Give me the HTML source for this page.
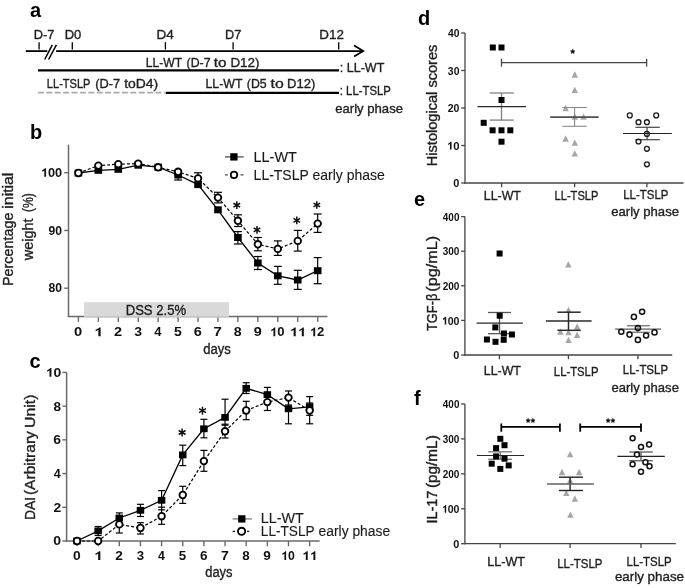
<!DOCTYPE html>
<html><head><meta charset="utf-8"><style>
html,body{margin:0;padding:0;background:#fff;}
body{width:685px;height:588px;overflow:hidden;}
svg{display:block;font-family:"Liberation Sans", sans-serif;will-change:transform;filter:blur(0.35px);}
</style></head><body>
<svg width="685" height="588" viewBox="0 0 685 588">
<rect width="685" height="588" fill="#fff"/>
<text x="30.00" y="17.10" font-size="20" font-weight="bold" fill="#000" text-anchor="start">a</text>
<text x="30.00" y="139.00" font-size="20" font-weight="bold" fill="#000" text-anchor="start">b</text>
<text x="29.60" y="368.00" font-size="20" font-weight="bold" fill="#000" text-anchor="start">c</text>
<text x="418.00" y="24.70" font-size="20" font-weight="bold" fill="#000" text-anchor="start">d</text>
<text x="414.00" y="206.40" font-size="20" font-weight="bold" fill="#000" text-anchor="start">e</text>
<text x="414.00" y="405.30" font-size="20" font-weight="bold" fill="#000" text-anchor="start">f</text>
<line x1="25.80" y1="51.10" x2="47.30" y2="51.10" stroke="#000" stroke-width="1.8" stroke-linecap="butt"/>
<line x1="56.10" y1="51.10" x2="362.50" y2="51.10" stroke="#000" stroke-width="1.8" stroke-linecap="butt"/>
<path d="M354.1,45.6 L363.2,51.1 L354.1,56.6" stroke="#000" stroke-width="1.8" fill="none"/>
<line x1="44.70" y1="59.50" x2="52.30" y2="44.80" stroke="#000" stroke-width="1.5" stroke-linecap="butt"/>
<line x1="48.60" y1="59.50" x2="56.40" y2="44.80" stroke="#000" stroke-width="1.5" stroke-linecap="butt"/>
<line x1="39.10" y1="42.20" x2="39.10" y2="49.60" stroke="#000" stroke-width="1.3" stroke-linecap="butt"/>
<line x1="72.30" y1="42.20" x2="72.30" y2="49.60" stroke="#000" stroke-width="1.3" stroke-linecap="butt"/>
<line x1="165.40" y1="42.20" x2="165.40" y2="49.60" stroke="#000" stroke-width="1.3" stroke-linecap="butt"/>
<line x1="233.10" y1="42.20" x2="233.10" y2="49.60" stroke="#000" stroke-width="1.3" stroke-linecap="butt"/>
<line x1="338.70" y1="42.20" x2="338.70" y2="49.60" stroke="#000" stroke-width="1.3" stroke-linecap="butt"/>
<text x="33.72" y="38.60" font-size="12.6" fill="#1f1f1f" textLength="20.65" lengthAdjust="spacingAndGlyphs" stroke="#1f1f1f" stroke-width="0.35">D-7</text>
<text x="64.71" y="38.60" font-size="12.6" fill="#1f1f1f" textLength="16.62" lengthAdjust="spacingAndGlyphs" stroke="#1f1f1f" stroke-width="0.35">D0</text>
<text x="156.46" y="38.80" font-size="12.6" fill="#1f1f1f" textLength="17.36" lengthAdjust="spacingAndGlyphs" stroke="#1f1f1f" stroke-width="0.35">D4</text>
<text x="225.13" y="38.80" font-size="12.6" fill="#1f1f1f" textLength="16.34" lengthAdjust="spacingAndGlyphs" stroke="#1f1f1f" stroke-width="0.35">D7</text>
<text x="319.38" y="38.80" font-size="12.6" fill="#1f1f1f" textLength="24.52" lengthAdjust="spacingAndGlyphs" stroke="#1f1f1f" stroke-width="0.35">D12</text>
<text x="145.78" y="67.00" font-size="12.6" fill="#1f1f1f" textLength="36.32" lengthAdjust="spacingAndGlyphs" stroke="#1f1f1f" stroke-width="0.35">LL-WT</text>
<text x="186.61" y="67.00" font-size="12.6" fill="#1f1f1f" textLength="23.93" lengthAdjust="spacingAndGlyphs" stroke="#1f1f1f" stroke-width="0.35">(D-7</text>
<text x="213.84" y="67.00" font-size="12.6" fill="#1f1f1f" textLength="12.72" lengthAdjust="spacingAndGlyphs" stroke="#1f1f1f" stroke-width="0.35">to</text>
<text x="230.48" y="67.00" font-size="12.6" fill="#1f1f1f" textLength="28.98" lengthAdjust="spacingAndGlyphs" stroke="#1f1f1f" stroke-width="0.35">D12)</text>
<line x1="38.00" y1="70.40" x2="339.00" y2="70.40" stroke="#000" stroke-width="2.4" stroke-linecap="butt"/>
<text x="339.73" y="71.80" font-size="12.6" fill="#1f1f1f" textLength="44.58" lengthAdjust="spacingAndGlyphs" stroke="#1f1f1f" stroke-width="0.35">: LL-WT</text>
<text x="46.87" y="87.90" font-size="12.6" fill="#1f1f1f" textLength="43.54" lengthAdjust="spacingAndGlyphs" stroke="#1f1f1f" stroke-width="0.35">LL-TSLP</text>
<text x="95.28" y="87.90" font-size="12.6" fill="#1f1f1f" textLength="24.99" lengthAdjust="spacingAndGlyphs" stroke="#1f1f1f" stroke-width="0.35">(D-7</text>
<text x="124.16" y="87.90" font-size="12.6" fill="#1f1f1f" textLength="34.02" lengthAdjust="spacingAndGlyphs" stroke="#1f1f1f" stroke-width="0.35">toD4)</text>
<line x1="37.90" y1="92.60" x2="165.40" y2="92.60" stroke="#aaaaaa" stroke-width="1.9" stroke-dasharray="6.0,2.4" stroke-linecap="butt"/>
<text x="205.46" y="88.00" font-size="12.6" fill="#1f1f1f" textLength="37.05" lengthAdjust="spacingAndGlyphs" stroke="#1f1f1f" stroke-width="0.35">LL-WT</text>
<text x="246.81" y="88.00" font-size="12.6" fill="#1f1f1f" textLength="19.83" lengthAdjust="spacingAndGlyphs" stroke="#1f1f1f" stroke-width="0.35">(D5</text>
<text x="270.54" y="88.00" font-size="12.6" fill="#1f1f1f" textLength="13.15" lengthAdjust="spacingAndGlyphs" stroke="#1f1f1f" stroke-width="0.35">to</text>
<text x="287.00" y="88.00" font-size="12.6" fill="#1f1f1f" textLength="28.33" lengthAdjust="spacingAndGlyphs" stroke="#1f1f1f" stroke-width="0.35">D12)</text>
<line x1="165.80" y1="92.90" x2="339.00" y2="92.90" stroke="#000" stroke-width="2.4" stroke-linecap="butt"/>
<text x="339.84" y="94.60" font-size="12.6" fill="#1f1f1f" textLength="50.98" lengthAdjust="spacingAndGlyphs" stroke="#1f1f1f" stroke-width="0.35">: LL-TSLP</text>
<text x="335.22" y="112.80" font-size="12.6" fill="#1f1f1f" textLength="67.79" lengthAdjust="spacingAndGlyphs" stroke="#1f1f1f" stroke-width="0.35">early phase</text>
<line x1="68.50" y1="144.60" x2="68.50" y2="317.10" stroke="#6a6a6a" stroke-width="1.5" stroke-linecap="butt"/>
<line x1="67.80" y1="316.60" x2="327.50" y2="316.60" stroke="#6a6a6a" stroke-width="1.5" stroke-linecap="butt"/>
<line x1="64.20" y1="172.70" x2="68.60" y2="172.70" stroke="#6a6a6a" stroke-width="1.4" stroke-linecap="butt"/>
<path d="M46.08,176.80 L46.08,168.20 L45.01,168.20 L44.54,168.87 L42.20,170.33 L42.20,171.80 L44.29,170.64 L44.29,176.80 Z" fill="#111"/>
<text x="47.91" y="176.80" font-size="12.5" font-weight="bold" fill="#111" textLength="7.11" lengthAdjust="spacingAndGlyphs">0</text>
<text x="55.01" y="176.80" font-size="12.5" font-weight="bold" fill="#111" textLength="7.11" lengthAdjust="spacingAndGlyphs">0</text>
<line x1="64.20" y1="230.45" x2="68.60" y2="230.45" stroke="#6a6a6a" stroke-width="1.4" stroke-linecap="butt"/>
<text x="48.58" y="234.55" font-size="12.5" font-weight="bold" fill="#111" textLength="6.76" lengthAdjust="spacingAndGlyphs">9</text>
<text x="55.34" y="234.55" font-size="12.5" font-weight="bold" fill="#111" textLength="6.76" lengthAdjust="spacingAndGlyphs">0</text>
<line x1="64.20" y1="288.20" x2="68.60" y2="288.20" stroke="#6a6a6a" stroke-width="1.4" stroke-linecap="butt"/>
<text x="48.62" y="292.30" font-size="12.5" font-weight="bold" fill="#111" textLength="6.74" lengthAdjust="spacingAndGlyphs">8</text>
<text x="55.36" y="292.30" font-size="12.5" font-weight="bold" fill="#111" textLength="6.74" lengthAdjust="spacingAndGlyphs">0</text>
<line x1="78.40" y1="316.40" x2="78.40" y2="321.90" stroke="#6a6a6a" stroke-width="1.4" stroke-linecap="butt"/>
<text x="74.12" y="336.20" font-size="12.6" font-weight="bold" fill="#111" textLength="8.19" lengthAdjust="spacingAndGlyphs">0</text>
<line x1="98.34" y1="316.40" x2="98.34" y2="321.90" stroke="#6a6a6a" stroke-width="1.4" stroke-linecap="butt"/>
<path d="M100.64,336.20 L100.64,327.53 L99.26,327.53 L98.66,328.20 L95.64,329.68 L95.64,331.16 L98.34,329.99 L98.34,336.20 Z" fill="#111"/>
<line x1="118.28" y1="316.40" x2="118.28" y2="321.90" stroke="#6a6a6a" stroke-width="1.4" stroke-linecap="butt"/>
<text x="114.08" y="336.20" font-size="12.6" font-weight="bold" fill="#111" textLength="8.09" lengthAdjust="spacingAndGlyphs">2</text>
<line x1="138.22" y1="316.40" x2="138.22" y2="321.90" stroke="#6a6a6a" stroke-width="1.4" stroke-linecap="butt"/>
<text x="134.20" y="336.20" font-size="12.6" font-weight="bold" fill="#111" textLength="7.83" lengthAdjust="spacingAndGlyphs">3</text>
<line x1="158.16" y1="316.40" x2="158.16" y2="321.90" stroke="#6a6a6a" stroke-width="1.4" stroke-linecap="butt"/>
<text x="154.26" y="336.20" font-size="12.6" font-weight="bold" fill="#111" textLength="7.27" lengthAdjust="spacingAndGlyphs">4</text>
<line x1="178.10" y1="316.40" x2="178.10" y2="321.90" stroke="#6a6a6a" stroke-width="1.4" stroke-linecap="butt"/>
<text x="173.97" y="336.20" font-size="12.6" font-weight="bold" fill="#111" textLength="7.82" lengthAdjust="spacingAndGlyphs">5</text>
<line x1="198.04" y1="316.40" x2="198.04" y2="321.90" stroke="#6a6a6a" stroke-width="1.4" stroke-linecap="butt"/>
<text x="193.81" y="336.20" font-size="12.6" font-weight="bold" fill="#111" textLength="8.05" lengthAdjust="spacingAndGlyphs">6</text>
<line x1="217.98" y1="316.40" x2="217.98" y2="321.90" stroke="#6a6a6a" stroke-width="1.4" stroke-linecap="butt"/>
<text x="213.64" y="336.20" font-size="12.6" font-weight="bold" fill="#111" textLength="8.30" lengthAdjust="spacingAndGlyphs">7</text>
<line x1="237.92" y1="316.40" x2="237.92" y2="321.90" stroke="#6a6a6a" stroke-width="1.4" stroke-linecap="butt"/>
<text x="233.77" y="336.20" font-size="12.6" font-weight="bold" fill="#111" textLength="7.89" lengthAdjust="spacingAndGlyphs">8</text>
<line x1="257.86" y1="316.40" x2="257.86" y2="321.90" stroke="#6a6a6a" stroke-width="1.4" stroke-linecap="butt"/>
<text x="253.66" y="336.20" font-size="12.6" font-weight="bold" fill="#111" textLength="8.04" lengthAdjust="spacingAndGlyphs">9</text>
<line x1="277.80" y1="316.40" x2="277.80" y2="321.90" stroke="#6a6a6a" stroke-width="1.4" stroke-linecap="butt"/>
<path d="M275.27,336.20 L275.27,327.53 L274.18,327.53 L273.70,328.20 L271.30,329.68 L271.30,331.16 L273.44,329.99 L273.44,336.20 Z" fill="#111"/>
<text x="277.15" y="336.20" font-size="12.6" font-weight="bold" fill="#111" textLength="7.29" lengthAdjust="spacingAndGlyphs">0</text>
<line x1="297.74" y1="316.40" x2="297.74" y2="321.90" stroke="#6a6a6a" stroke-width="1.4" stroke-linecap="butt"/>
<path d="M295.69,336.20 L295.69,327.53 L294.46,327.53 L293.92,328.20 L291.24,329.68 L291.24,331.16 L293.64,329.99 L293.64,336.20 Z" fill="#111"/>
<path d="M303.84,336.20 L303.84,327.53 L302.62,327.53 L302.08,328.20 L299.39,329.68 L299.39,331.16 L301.79,329.99 L301.79,336.20 Z" fill="#111"/>
<line x1="317.68" y1="316.40" x2="317.68" y2="321.90" stroke="#6a6a6a" stroke-width="1.4" stroke-linecap="butt"/>
<path d="M315.15,336.20 L315.15,327.53 L314.06,327.53 L313.58,328.20 L311.18,329.68 L311.18,331.16 L313.32,329.99 L313.32,336.20 Z" fill="#111"/>
<text x="317.02" y="336.20" font-size="12.6" font-weight="bold" fill="#111" textLength="7.28" lengthAdjust="spacingAndGlyphs">2</text>
<rect x="84.1" y="302.2" width="144.9" height="15.2" fill="#d9d9d9"/>
<line x1="84.10" y1="316.60" x2="229.00" y2="316.60" stroke="#c6c6c6" stroke-width="1.4" stroke-linecap="butt"/>
<text x="125.70" y="314.60" font-size="13.8" fill="#1f1f1f" textLength="60.39" lengthAdjust="spacingAndGlyphs" stroke="#1f1f1f" stroke-width="0.35">DSS 2.5%</text>
<text x="203.23" y="354.20" font-size="14.0" fill="#1f1f1f" textLength="27.57" lengthAdjust="spacingAndGlyphs" stroke="#1f1f1f" stroke-width="0.35">days</text>
<text transform="translate(13.30,285.00) rotate(-90)" x="-1.00" y="0" font-size="14.2" fill="#1f1f1f" textLength="73.47" lengthAdjust="spacingAndGlyphs" stroke="#1f1f1f" stroke-width="0.35">Percentage</text>
<text transform="translate(13.30,207.80) rotate(-90)" x="-0.88" y="0" font-size="14.2" fill="#1f1f1f" textLength="36.07" lengthAdjust="spacingAndGlyphs" stroke="#1f1f1f" stroke-width="0.35">initial</text>
<text transform="translate(32.70,260.50) rotate(-90)" x="0.20" y="0" font-size="14.2" fill="#1f1f1f" textLength="41.83" lengthAdjust="spacingAndGlyphs" stroke="#1f1f1f" stroke-width="0.35">weight</text>
<text transform="translate(32.70,211.50) rotate(-90)" x="-0.58" y="0" font-size="14.2" fill="#1f1f1f" textLength="18.96" lengthAdjust="spacingAndGlyphs" stroke="#1f1f1f" stroke-width="0.35">(%)</text>
<line x1="178.10" y1="180.00" x2="178.10" y2="175.00" stroke="#000" stroke-width="1.2" stroke-linecap="butt"/>
<line x1="174.10" y1="180.00" x2="182.10" y2="180.00" stroke="#000" stroke-width="1.2" stroke-linecap="butt"/>
<line x1="174.10" y1="175.00" x2="182.10" y2="175.00" stroke="#000" stroke-width="1.2" stroke-linecap="butt"/>
<line x1="237.92" y1="231.60" x2="237.92" y2="244.00" stroke="#000" stroke-width="1.2" stroke-linecap="butt"/>
<line x1="233.92" y1="231.60" x2="241.92" y2="231.60" stroke="#000" stroke-width="1.2" stroke-linecap="butt"/>
<line x1="233.92" y1="244.00" x2="241.92" y2="244.00" stroke="#000" stroke-width="1.2" stroke-linecap="butt"/>
<line x1="257.86" y1="256.50" x2="257.86" y2="269.50" stroke="#000" stroke-width="1.2" stroke-linecap="butt"/>
<line x1="253.86" y1="256.50" x2="261.86" y2="256.50" stroke="#000" stroke-width="1.2" stroke-linecap="butt"/>
<line x1="253.86" y1="269.50" x2="261.86" y2="269.50" stroke="#000" stroke-width="1.2" stroke-linecap="butt"/>
<line x1="277.80" y1="266.40" x2="277.80" y2="284.30" stroke="#000" stroke-width="1.2" stroke-linecap="butt"/>
<line x1="273.80" y1="266.40" x2="281.80" y2="266.40" stroke="#000" stroke-width="1.2" stroke-linecap="butt"/>
<line x1="273.80" y1="284.30" x2="281.80" y2="284.30" stroke="#000" stroke-width="1.2" stroke-linecap="butt"/>
<line x1="297.74" y1="270.30" x2="297.74" y2="289.40" stroke="#000" stroke-width="1.2" stroke-linecap="butt"/>
<line x1="293.74" y1="270.30" x2="301.74" y2="270.30" stroke="#000" stroke-width="1.2" stroke-linecap="butt"/>
<line x1="293.74" y1="289.40" x2="301.74" y2="289.40" stroke="#000" stroke-width="1.2" stroke-linecap="butt"/>
<line x1="317.68" y1="257.60" x2="317.68" y2="283.70" stroke="#000" stroke-width="1.2" stroke-linecap="butt"/>
<line x1="313.68" y1="257.60" x2="321.68" y2="257.60" stroke="#000" stroke-width="1.2" stroke-linecap="butt"/>
<line x1="313.68" y1="283.70" x2="321.68" y2="283.70" stroke="#000" stroke-width="1.2" stroke-linecap="butt"/>
<line x1="198.04" y1="172.80" x2="198.04" y2="178.40" stroke="#000" stroke-width="1.2" stroke-linecap="butt"/>
<line x1="194.04" y1="172.80" x2="202.04" y2="172.80" stroke="#000" stroke-width="1.2" stroke-linecap="butt"/>
<line x1="194.04" y1="178.40" x2="202.04" y2="178.40" stroke="#000" stroke-width="1.2" stroke-linecap="butt"/>
<line x1="217.98" y1="192.30" x2="217.98" y2="202.90" stroke="#000" stroke-width="1.2" stroke-linecap="butt"/>
<line x1="213.98" y1="192.30" x2="221.98" y2="192.30" stroke="#000" stroke-width="1.2" stroke-linecap="butt"/>
<line x1="213.98" y1="202.90" x2="221.98" y2="202.90" stroke="#000" stroke-width="1.2" stroke-linecap="butt"/>
<line x1="237.92" y1="214.80" x2="237.92" y2="226.50" stroke="#000" stroke-width="1.2" stroke-linecap="butt"/>
<line x1="233.92" y1="214.80" x2="241.92" y2="214.80" stroke="#000" stroke-width="1.2" stroke-linecap="butt"/>
<line x1="233.92" y1="226.50" x2="241.92" y2="226.50" stroke="#000" stroke-width="1.2" stroke-linecap="butt"/>
<line x1="257.86" y1="237.50" x2="257.86" y2="250.80" stroke="#000" stroke-width="1.2" stroke-linecap="butt"/>
<line x1="253.86" y1="237.50" x2="261.86" y2="237.50" stroke="#000" stroke-width="1.2" stroke-linecap="butt"/>
<line x1="253.86" y1="250.80" x2="261.86" y2="250.80" stroke="#000" stroke-width="1.2" stroke-linecap="butt"/>
<line x1="277.80" y1="240.90" x2="277.80" y2="255.40" stroke="#000" stroke-width="1.2" stroke-linecap="butt"/>
<line x1="273.80" y1="240.90" x2="281.80" y2="240.90" stroke="#000" stroke-width="1.2" stroke-linecap="butt"/>
<line x1="273.80" y1="255.40" x2="281.80" y2="255.40" stroke="#000" stroke-width="1.2" stroke-linecap="butt"/>
<line x1="297.74" y1="230.40" x2="297.74" y2="251.10" stroke="#000" stroke-width="1.2" stroke-linecap="butt"/>
<line x1="293.74" y1="230.40" x2="301.74" y2="230.40" stroke="#000" stroke-width="1.2" stroke-linecap="butt"/>
<line x1="293.74" y1="251.10" x2="301.74" y2="251.10" stroke="#000" stroke-width="1.2" stroke-linecap="butt"/>
<line x1="317.68" y1="214.00" x2="317.68" y2="232.40" stroke="#000" stroke-width="1.2" stroke-linecap="butt"/>
<line x1="313.68" y1="214.00" x2="321.68" y2="214.00" stroke="#000" stroke-width="1.2" stroke-linecap="butt"/>
<line x1="313.68" y1="232.40" x2="321.68" y2="232.40" stroke="#000" stroke-width="1.2" stroke-linecap="butt"/>
<path d="M78.40,173.00 L98.34,170.30 L118.28,169.30 L138.22,165.20 L158.16,167.20 L178.10,175.00 L198.04,184.60 L217.98,209.80 L237.92,237.50 L257.86,263.00 L277.80,275.80 L297.74,280.00 L317.68,270.70" stroke="#000" stroke-width="1.3" fill="none"/>
<path d="M78.40,173.00 L98.34,165.60 L118.28,164.20 L138.22,163.60 L158.16,167.30 L178.10,171.80 L198.04,178.40 L217.98,197.60 L237.92,220.80 L257.86,244.30 L277.80,248.90 L297.74,240.90 L317.68,223.60" stroke="#000" stroke-width="1.2" fill="none" stroke-dasharray="3,2"/>
<rect x="74.60" y="169.50" width="7.60" height="7.00" fill="#000"/>
<rect x="94.54" y="166.80" width="7.60" height="7.00" fill="#000"/>
<rect x="114.48" y="165.80" width="7.60" height="7.00" fill="#000"/>
<rect x="134.42" y="161.70" width="7.60" height="7.00" fill="#000"/>
<rect x="154.36" y="163.70" width="7.60" height="7.00" fill="#000"/>
<rect x="174.30" y="171.50" width="7.60" height="7.00" fill="#000"/>
<rect x="194.24" y="181.10" width="7.60" height="7.00" fill="#000"/>
<rect x="214.18" y="206.30" width="7.60" height="7.00" fill="#000"/>
<rect x="234.12" y="234.00" width="7.60" height="7.00" fill="#000"/>
<rect x="254.06" y="259.50" width="7.60" height="7.00" fill="#000"/>
<rect x="274.00" y="272.30" width="7.60" height="7.00" fill="#000"/>
<rect x="293.94" y="276.50" width="7.60" height="7.00" fill="#000"/>
<rect x="313.88" y="267.20" width="7.60" height="7.00" fill="#000"/>
<circle cx="78.40" cy="173.00" r="3.30" stroke="#000" stroke-width="1.8" fill="#fff"/>
<circle cx="98.34" cy="165.60" r="3.30" stroke="#000" stroke-width="1.8" fill="#fff"/>
<circle cx="118.28" cy="164.20" r="3.30" stroke="#000" stroke-width="1.8" fill="#fff"/>
<circle cx="138.22" cy="163.60" r="3.30" stroke="#000" stroke-width="1.8" fill="#fff"/>
<circle cx="158.16" cy="167.30" r="3.30" stroke="#000" stroke-width="1.8" fill="#fff"/>
<circle cx="178.10" cy="171.80" r="3.30" stroke="#000" stroke-width="1.8" fill="#fff"/>
<circle cx="198.04" cy="178.40" r="3.30" stroke="#000" stroke-width="1.8" fill="#fff"/>
<circle cx="217.98" cy="197.60" r="3.30" stroke="#000" stroke-width="1.8" fill="#fff"/>
<circle cx="237.92" cy="220.80" r="3.30" stroke="#000" stroke-width="1.8" fill="#fff"/>
<circle cx="257.86" cy="244.30" r="3.30" stroke="#000" stroke-width="1.8" fill="#fff"/>
<circle cx="277.80" cy="248.90" r="3.30" stroke="#000" stroke-width="1.8" fill="#fff"/>
<circle cx="297.74" cy="240.90" r="3.30" stroke="#000" stroke-width="1.8" fill="#fff"/>
<circle cx="317.68" cy="223.60" r="3.30" stroke="#000" stroke-width="1.8" fill="#fff"/>
<path d="M236.80,201.35 L236.80,209.05 M233.47,203.27 L240.13,207.12 M233.47,207.12 L240.13,203.27" stroke="#111" stroke-width="1.50" fill="none"/>
<path d="M257.00,226.05 L257.00,233.75 M253.67,227.97 L260.33,231.83 M253.67,231.83 L260.33,227.97" stroke="#111" stroke-width="1.50" fill="none"/>
<path d="M296.80,216.55 L296.80,224.25 M293.47,218.47 L300.13,222.33 M293.47,222.33 L300.13,218.47" stroke="#111" stroke-width="1.50" fill="none"/>
<path d="M316.80,201.15 L316.80,208.85 M313.47,203.07 L320.13,206.93 M313.47,206.93 L320.13,203.07" stroke="#111" stroke-width="1.50" fill="none"/>
<line x1="225.00" y1="156.90" x2="243.70" y2="156.90" stroke="#555" stroke-width="1.3" stroke-linecap="butt"/>
<rect x="230.25" y="153.25" width="7.30" height="7.30" fill="#000"/>
<line x1="225.00" y1="174.90" x2="244.00" y2="174.90" stroke="#444" stroke-width="1.3" stroke-dasharray="2.8,2.4" stroke-linecap="butt"/>
<circle cx="234.00" cy="174.90" r="3.20" stroke="#000" stroke-width="1.7" fill="#fff"/>
<text x="253.58" y="161.90" font-size="14.5" fill="#1a1a1a" textLength="43.19" lengthAdjust="spacingAndGlyphs" stroke="#1a1a1a" stroke-width="0.12">LL-WT</text>
<text x="253.61" y="179.70" font-size="14.5" fill="#1a1a1a" textLength="131.15" lengthAdjust="spacingAndGlyphs" stroke="#1a1a1a" stroke-width="0.12">LL-TSLP early phase</text>
<line x1="66.60" y1="372.20" x2="66.60" y2="541.70" stroke="#6a6a6a" stroke-width="1.5" stroke-linecap="butt"/>
<line x1="65.90" y1="541.00" x2="319.70" y2="541.00" stroke="#6a6a6a" stroke-width="1.4" stroke-linecap="butt"/>
<line x1="62.30" y1="541.00" x2="66.60" y2="541.00" stroke="#6a6a6a" stroke-width="1.4" stroke-linecap="butt"/>
<text x="53.34" y="545.40" font-size="12.8" font-weight="bold" fill="#111" textLength="7.84" lengthAdjust="spacingAndGlyphs">0</text>
<line x1="62.30" y1="507.28" x2="66.60" y2="507.28" stroke="#6a6a6a" stroke-width="1.4" stroke-linecap="butt"/>
<text x="53.42" y="511.68" font-size="12.8" font-weight="bold" fill="#111" textLength="7.74" lengthAdjust="spacingAndGlyphs">2</text>
<line x1="62.30" y1="473.56" x2="66.60" y2="473.56" stroke="#6a6a6a" stroke-width="1.4" stroke-linecap="butt"/>
<text x="53.71" y="477.96" font-size="12.8" font-weight="bold" fill="#111" textLength="6.96" lengthAdjust="spacingAndGlyphs">4</text>
<line x1="62.30" y1="439.84" x2="66.60" y2="439.84" stroke="#6a6a6a" stroke-width="1.4" stroke-linecap="butt"/>
<text x="53.39" y="444.24" font-size="12.8" font-weight="bold" fill="#111" textLength="7.71" lengthAdjust="spacingAndGlyphs">6</text>
<line x1="62.30" y1="406.12" x2="66.60" y2="406.12" stroke="#6a6a6a" stroke-width="1.4" stroke-linecap="butt"/>
<text x="53.47" y="410.52" font-size="12.8" font-weight="bold" fill="#111" textLength="7.55" lengthAdjust="spacingAndGlyphs">8</text>
<line x1="62.30" y1="372.40" x2="66.60" y2="372.40" stroke="#6a6a6a" stroke-width="1.4" stroke-linecap="butt"/>
<path d="M51.43,376.80 L51.43,367.99 L50.26,367.99 L49.75,368.67 L47.20,370.17 L47.20,371.67 L49.48,370.49 L49.48,376.80 Z" fill="#111"/>
<text x="53.42" y="376.80" font-size="12.8" font-weight="bold" fill="#111" textLength="7.75" lengthAdjust="spacingAndGlyphs">0</text>
<line x1="77.00" y1="541.00" x2="77.00" y2="546.30" stroke="#6a6a6a" stroke-width="1.4" stroke-linecap="butt"/>
<text x="72.95" y="560.00" font-size="12.6" font-weight="bold" fill="#111" textLength="7.72" lengthAdjust="spacingAndGlyphs">0</text>
<line x1="98.15" y1="541.00" x2="98.15" y2="546.30" stroke="#6a6a6a" stroke-width="1.4" stroke-linecap="butt"/>
<path d="M100.35,560.00 L100.35,551.33 L99.03,551.33 L98.45,552.00 L95.55,553.48 L95.55,554.96 L98.14,553.79 L98.14,560.00 Z" fill="#111"/>
<line x1="119.30" y1="541.00" x2="119.30" y2="546.30" stroke="#6a6a6a" stroke-width="1.4" stroke-linecap="butt"/>
<text x="115.32" y="560.00" font-size="12.6" font-weight="bold" fill="#111" textLength="7.62" lengthAdjust="spacingAndGlyphs">2</text>
<line x1="140.45" y1="541.00" x2="140.45" y2="546.30" stroke="#6a6a6a" stroke-width="1.4" stroke-linecap="butt"/>
<text x="136.65" y="560.00" font-size="12.6" font-weight="bold" fill="#111" textLength="7.38" lengthAdjust="spacingAndGlyphs">3</text>
<line x1="161.60" y1="541.00" x2="161.60" y2="546.30" stroke="#6a6a6a" stroke-width="1.4" stroke-linecap="butt"/>
<text x="157.91" y="560.00" font-size="12.6" font-weight="bold" fill="#111" textLength="6.85" lengthAdjust="spacingAndGlyphs">4</text>
<line x1="182.75" y1="541.00" x2="182.75" y2="546.30" stroke="#6a6a6a" stroke-width="1.4" stroke-linecap="butt"/>
<text x="178.84" y="560.00" font-size="12.6" font-weight="bold" fill="#111" textLength="7.38" lengthAdjust="spacingAndGlyphs">5</text>
<line x1="203.90" y1="541.00" x2="203.90" y2="546.30" stroke="#6a6a6a" stroke-width="1.4" stroke-linecap="butt"/>
<text x="199.90" y="560.00" font-size="12.6" font-weight="bold" fill="#111" textLength="7.59" lengthAdjust="spacingAndGlyphs">6</text>
<line x1="225.05" y1="541.00" x2="225.05" y2="546.30" stroke="#6a6a6a" stroke-width="1.4" stroke-linecap="butt"/>
<text x="220.95" y="560.00" font-size="12.6" font-weight="bold" fill="#111" textLength="7.82" lengthAdjust="spacingAndGlyphs">7</text>
<line x1="246.20" y1="541.00" x2="246.20" y2="546.30" stroke="#6a6a6a" stroke-width="1.4" stroke-linecap="butt"/>
<text x="242.28" y="560.00" font-size="12.6" font-weight="bold" fill="#111" textLength="7.44" lengthAdjust="spacingAndGlyphs">8</text>
<line x1="267.35" y1="541.00" x2="267.35" y2="546.30" stroke="#6a6a6a" stroke-width="1.4" stroke-linecap="butt"/>
<text x="263.38" y="560.00" font-size="12.6" font-weight="bold" fill="#111" textLength="7.58" lengthAdjust="spacingAndGlyphs">9</text>
<line x1="288.50" y1="541.00" x2="288.50" y2="546.30" stroke="#6a6a6a" stroke-width="1.4" stroke-linecap="butt"/>
<path d="M286.12,560.00 L286.12,551.33 L285.10,551.33 L284.65,552.00 L282.40,553.48 L282.40,554.96 L284.41,553.79 L284.41,560.00 Z" fill="#111"/>
<text x="287.88" y="560.00" font-size="12.6" font-weight="bold" fill="#111" textLength="6.83" lengthAdjust="spacingAndGlyphs">0</text>
<line x1="309.65" y1="541.00" x2="309.65" y2="546.30" stroke="#6a6a6a" stroke-width="1.4" stroke-linecap="butt"/>
<path d="M307.71,560.00 L307.71,551.33 L306.57,551.33 L306.06,552.00 L303.55,553.48 L303.55,554.96 L305.80,553.79 L305.80,560.00 Z" fill="#111"/>
<path d="M315.35,560.00 L315.35,551.33 L314.20,551.33 L313.70,552.00 L311.19,553.48 L311.19,554.96 L313.43,553.79 L313.43,560.00 Z" fill="#111"/>
<text x="205.23" y="576.50" font-size="14.0" fill="#1f1f1f" textLength="27.26" lengthAdjust="spacingAndGlyphs" stroke="#1f1f1f" stroke-width="0.35">days</text>
<text transform="translate(34.50,519.00) rotate(-90)" x="-0.97" y="0" font-size="14.0" fill="#1f1f1f" textLength="23.17" lengthAdjust="spacingAndGlyphs" stroke="#1f1f1f" stroke-width="0.35">DAI</text>
<text transform="translate(34.50,494.30) rotate(-90)" x="-0.79" y="0" font-size="14.0" fill="#1f1f1f" textLength="63.94" lengthAdjust="spacingAndGlyphs" stroke="#1f1f1f" stroke-width="0.35">(Arbitrary</text>
<text transform="translate(34.50,426.90) rotate(-90)" x="-1.04" y="0" font-size="14.0" fill="#1f1f1f" textLength="33.35" lengthAdjust="spacingAndGlyphs" stroke="#1f1f1f" stroke-width="0.35">Unit)</text>
<line x1="98.15" y1="526.50" x2="98.15" y2="535.50" stroke="#000" stroke-width="1.2" stroke-linecap="butt"/>
<line x1="94.65" y1="526.50" x2="101.65" y2="526.50" stroke="#000" stroke-width="1.2" stroke-linecap="butt"/>
<line x1="94.65" y1="535.50" x2="101.65" y2="535.50" stroke="#000" stroke-width="1.2" stroke-linecap="butt"/>
<line x1="119.30" y1="512.90" x2="119.30" y2="524.60" stroke="#000" stroke-width="1.2" stroke-linecap="butt"/>
<line x1="115.80" y1="512.90" x2="122.80" y2="512.90" stroke="#000" stroke-width="1.2" stroke-linecap="butt"/>
<line x1="115.80" y1="524.60" x2="122.80" y2="524.60" stroke="#000" stroke-width="1.2" stroke-linecap="butt"/>
<line x1="140.45" y1="504.30" x2="140.45" y2="516.50" stroke="#000" stroke-width="1.2" stroke-linecap="butt"/>
<line x1="136.95" y1="504.30" x2="143.95" y2="504.30" stroke="#000" stroke-width="1.2" stroke-linecap="butt"/>
<line x1="136.95" y1="516.50" x2="143.95" y2="516.50" stroke="#000" stroke-width="1.2" stroke-linecap="butt"/>
<line x1="161.60" y1="490.60" x2="161.60" y2="509.80" stroke="#000" stroke-width="1.2" stroke-linecap="butt"/>
<line x1="158.10" y1="490.60" x2="165.10" y2="490.60" stroke="#000" stroke-width="1.2" stroke-linecap="butt"/>
<line x1="158.10" y1="509.80" x2="165.10" y2="509.80" stroke="#000" stroke-width="1.2" stroke-linecap="butt"/>
<line x1="182.75" y1="445.20" x2="182.75" y2="465.60" stroke="#000" stroke-width="1.2" stroke-linecap="butt"/>
<line x1="179.25" y1="445.20" x2="186.25" y2="445.20" stroke="#000" stroke-width="1.2" stroke-linecap="butt"/>
<line x1="179.25" y1="465.60" x2="186.25" y2="465.60" stroke="#000" stroke-width="1.2" stroke-linecap="butt"/>
<line x1="203.90" y1="419.30" x2="203.90" y2="437.80" stroke="#000" stroke-width="1.2" stroke-linecap="butt"/>
<line x1="200.40" y1="419.30" x2="207.40" y2="419.30" stroke="#000" stroke-width="1.2" stroke-linecap="butt"/>
<line x1="200.40" y1="437.80" x2="207.40" y2="437.80" stroke="#000" stroke-width="1.2" stroke-linecap="butt"/>
<line x1="225.05" y1="399.20" x2="225.05" y2="425.20" stroke="#000" stroke-width="1.2" stroke-linecap="butt"/>
<line x1="221.55" y1="399.20" x2="228.55" y2="399.20" stroke="#000" stroke-width="1.2" stroke-linecap="butt"/>
<line x1="221.55" y1="425.20" x2="228.55" y2="425.20" stroke="#000" stroke-width="1.2" stroke-linecap="butt"/>
<line x1="246.20" y1="382.70" x2="246.20" y2="393.50" stroke="#000" stroke-width="1.2" stroke-linecap="butt"/>
<line x1="242.70" y1="382.70" x2="249.70" y2="382.70" stroke="#000" stroke-width="1.2" stroke-linecap="butt"/>
<line x1="242.70" y1="393.50" x2="249.70" y2="393.50" stroke="#000" stroke-width="1.2" stroke-linecap="butt"/>
<line x1="267.35" y1="387.40" x2="267.35" y2="402.50" stroke="#000" stroke-width="1.2" stroke-linecap="butt"/>
<line x1="263.85" y1="387.40" x2="270.85" y2="387.40" stroke="#000" stroke-width="1.2" stroke-linecap="butt"/>
<line x1="263.85" y1="402.50" x2="270.85" y2="402.50" stroke="#000" stroke-width="1.2" stroke-linecap="butt"/>
<line x1="288.50" y1="397.00" x2="288.50" y2="423.80" stroke="#000" stroke-width="1.2" stroke-linecap="butt"/>
<line x1="285.00" y1="397.00" x2="292.00" y2="397.00" stroke="#000" stroke-width="1.2" stroke-linecap="butt"/>
<line x1="285.00" y1="423.80" x2="292.00" y2="423.80" stroke="#000" stroke-width="1.2" stroke-linecap="butt"/>
<line x1="309.65" y1="396.60" x2="309.65" y2="423.80" stroke="#000" stroke-width="1.2" stroke-linecap="butt"/>
<line x1="306.15" y1="396.60" x2="313.15" y2="396.60" stroke="#000" stroke-width="1.2" stroke-linecap="butt"/>
<line x1="306.15" y1="423.80" x2="313.15" y2="423.80" stroke="#000" stroke-width="1.2" stroke-linecap="butt"/>
<line x1="119.30" y1="517.00" x2="119.30" y2="533.00" stroke="#000" stroke-width="1.2" stroke-linecap="butt"/>
<line x1="115.80" y1="517.00" x2="122.80" y2="517.00" stroke="#000" stroke-width="1.2" stroke-linecap="butt"/>
<line x1="115.80" y1="533.00" x2="122.80" y2="533.00" stroke="#000" stroke-width="1.2" stroke-linecap="butt"/>
<line x1="140.45" y1="522.70" x2="140.45" y2="534.00" stroke="#000" stroke-width="1.2" stroke-linecap="butt"/>
<line x1="136.95" y1="522.70" x2="143.95" y2="522.70" stroke="#000" stroke-width="1.2" stroke-linecap="butt"/>
<line x1="136.95" y1="534.00" x2="143.95" y2="534.00" stroke="#000" stroke-width="1.2" stroke-linecap="butt"/>
<line x1="161.60" y1="507.20" x2="161.60" y2="524.30" stroke="#000" stroke-width="1.2" stroke-linecap="butt"/>
<line x1="158.10" y1="507.20" x2="165.10" y2="507.20" stroke="#000" stroke-width="1.2" stroke-linecap="butt"/>
<line x1="158.10" y1="524.30" x2="165.10" y2="524.30" stroke="#000" stroke-width="1.2" stroke-linecap="butt"/>
<line x1="182.75" y1="486.30" x2="182.75" y2="503.40" stroke="#000" stroke-width="1.2" stroke-linecap="butt"/>
<line x1="179.25" y1="486.30" x2="186.25" y2="486.30" stroke="#000" stroke-width="1.2" stroke-linecap="butt"/>
<line x1="179.25" y1="503.40" x2="186.25" y2="503.40" stroke="#000" stroke-width="1.2" stroke-linecap="butt"/>
<line x1="203.90" y1="450.40" x2="203.90" y2="471.30" stroke="#000" stroke-width="1.2" stroke-linecap="butt"/>
<line x1="200.40" y1="450.40" x2="207.40" y2="450.40" stroke="#000" stroke-width="1.2" stroke-linecap="butt"/>
<line x1="200.40" y1="471.30" x2="207.40" y2="471.30" stroke="#000" stroke-width="1.2" stroke-linecap="butt"/>
<line x1="225.05" y1="424.20" x2="225.05" y2="438.00" stroke="#000" stroke-width="1.2" stroke-linecap="butt"/>
<line x1="221.55" y1="424.20" x2="228.55" y2="424.20" stroke="#000" stroke-width="1.2" stroke-linecap="butt"/>
<line x1="221.55" y1="438.00" x2="228.55" y2="438.00" stroke="#000" stroke-width="1.2" stroke-linecap="butt"/>
<line x1="246.20" y1="401.30" x2="246.20" y2="419.70" stroke="#000" stroke-width="1.2" stroke-linecap="butt"/>
<line x1="242.70" y1="401.30" x2="249.70" y2="401.30" stroke="#000" stroke-width="1.2" stroke-linecap="butt"/>
<line x1="242.70" y1="419.70" x2="249.70" y2="419.70" stroke="#000" stroke-width="1.2" stroke-linecap="butt"/>
<line x1="267.35" y1="395.00" x2="267.35" y2="410.50" stroke="#000" stroke-width="1.2" stroke-linecap="butt"/>
<line x1="263.85" y1="395.00" x2="270.85" y2="395.00" stroke="#000" stroke-width="1.2" stroke-linecap="butt"/>
<line x1="263.85" y1="410.50" x2="270.85" y2="410.50" stroke="#000" stroke-width="1.2" stroke-linecap="butt"/>
<line x1="288.50" y1="391.00" x2="288.50" y2="405.00" stroke="#000" stroke-width="1.2" stroke-linecap="butt"/>
<line x1="285.00" y1="391.00" x2="292.00" y2="391.00" stroke="#000" stroke-width="1.2" stroke-linecap="butt"/>
<line x1="285.00" y1="405.00" x2="292.00" y2="405.00" stroke="#000" stroke-width="1.2" stroke-linecap="butt"/>
<line x1="309.65" y1="403.00" x2="309.65" y2="415.30" stroke="#000" stroke-width="1.2" stroke-linecap="butt"/>
<line x1="306.15" y1="403.00" x2="313.15" y2="403.00" stroke="#000" stroke-width="1.2" stroke-linecap="butt"/>
<line x1="306.15" y1="415.30" x2="313.15" y2="415.30" stroke="#000" stroke-width="1.2" stroke-linecap="butt"/>
<path d="M77.00,541.00 L98.15,530.90 L119.30,518.00 L140.45,510.30 L161.60,500.30 L182.75,454.90 L203.90,428.80 L225.05,417.40 L246.20,388.30 L267.35,394.60 L288.50,408.80 L309.65,406.80" stroke="#000" stroke-width="1.3" fill="none"/>
<path d="M77.00,541.00 L98.15,541.00 L119.30,524.40 L140.45,528.00 L161.60,516.20 L182.75,495.00 L203.90,461.10 L225.05,431.30 L246.20,410.50 L267.35,402.10 L288.50,397.60 L309.65,410.50" stroke="#000" stroke-width="1.2" fill="none" stroke-dasharray="3,2"/>
<rect x="73.25" y="537.60" width="7.50" height="6.80" fill="#000"/>
<rect x="94.40" y="527.50" width="7.50" height="6.80" fill="#000"/>
<rect x="115.55" y="514.60" width="7.50" height="6.80" fill="#000"/>
<rect x="136.70" y="506.90" width="7.50" height="6.80" fill="#000"/>
<rect x="157.85" y="496.90" width="7.50" height="6.80" fill="#000"/>
<rect x="179.00" y="451.50" width="7.50" height="6.80" fill="#000"/>
<rect x="200.15" y="425.40" width="7.50" height="6.80" fill="#000"/>
<rect x="221.30" y="414.00" width="7.50" height="6.80" fill="#000"/>
<rect x="242.45" y="384.90" width="7.50" height="6.80" fill="#000"/>
<rect x="263.60" y="391.20" width="7.50" height="6.80" fill="#000"/>
<rect x="284.75" y="405.40" width="7.50" height="6.80" fill="#000"/>
<rect x="305.90" y="403.40" width="7.50" height="6.80" fill="#000"/>
<circle cx="77.00" cy="541.00" r="3.30" stroke="#000" stroke-width="1.8" fill="#fff"/>
<circle cx="98.15" cy="541.00" r="3.30" stroke="#000" stroke-width="1.8" fill="#fff"/>
<circle cx="119.30" cy="524.40" r="3.30" stroke="#000" stroke-width="1.8" fill="#fff"/>
<circle cx="140.45" cy="528.00" r="3.30" stroke="#000" stroke-width="1.8" fill="#fff"/>
<circle cx="161.60" cy="516.20" r="3.30" stroke="#000" stroke-width="1.8" fill="#fff"/>
<circle cx="182.75" cy="495.00" r="3.30" stroke="#000" stroke-width="1.8" fill="#fff"/>
<circle cx="203.90" cy="461.10" r="3.30" stroke="#000" stroke-width="1.8" fill="#fff"/>
<circle cx="225.05" cy="431.30" r="3.30" stroke="#000" stroke-width="1.8" fill="#fff"/>
<circle cx="246.20" cy="410.50" r="3.30" stroke="#000" stroke-width="1.8" fill="#fff"/>
<circle cx="267.35" cy="402.10" r="3.30" stroke="#000" stroke-width="1.8" fill="#fff"/>
<circle cx="288.50" cy="397.60" r="3.30" stroke="#000" stroke-width="1.8" fill="#fff"/>
<circle cx="309.65" cy="410.50" r="3.30" stroke="#000" stroke-width="1.8" fill="#fff"/>
<path d="M182.10,428.50 L182.10,436.50 M178.64,430.50 L185.56,434.50 M178.64,434.50 L185.56,430.50" stroke="#111" stroke-width="1.50" fill="none"/>
<path d="M202.50,406.70 L202.50,414.70 M199.04,408.70 L205.96,412.70 M199.04,412.70 L205.96,408.70" stroke="#111" stroke-width="1.50" fill="none"/>
<line x1="232.60" y1="518.90" x2="251.90" y2="518.90" stroke="#888" stroke-width="1.4" stroke-linecap="butt"/>
<rect x="238.15" y="515.25" width="7.30" height="7.30" fill="#000"/>
<line x1="232.60" y1="531.30" x2="251.90" y2="531.30" stroke="#222" stroke-width="1.3" stroke-dasharray="2.4,2.4" stroke-linecap="butt"/>
<circle cx="241.60" cy="531.30" r="3.60" stroke="#000" stroke-width="1.85" fill="#fff"/>
<text x="260.78" y="522.90" font-size="14.0" fill="#1a1a1a" textLength="42.98" lengthAdjust="spacingAndGlyphs" stroke="#1a1a1a" stroke-width="0.12">LL-WT</text>
<text x="260.84" y="535.50" font-size="14.0" fill="#1a1a1a" textLength="53.82" lengthAdjust="spacingAndGlyphs" stroke="#1a1a1a" stroke-width="0.12">LL-TSLP</text>
<text x="318.57" y="535.50" font-size="14.0" fill="#1a1a1a" textLength="71.58" lengthAdjust="spacingAndGlyphs" stroke="#1a1a1a" stroke-width="0.12">early phase</text>
<line x1="465.00" y1="33.00" x2="465.00" y2="183.60" stroke="#454545" stroke-width="1.3" stroke-linecap="butt"/>
<line x1="461.20" y1="33.00" x2="465.00" y2="33.00" stroke="#454545" stroke-width="1.3" stroke-linecap="butt"/>
<text x="447.94" y="37.10" font-size="11.4" font-weight="bold" fill="#111" textLength="5.74" lengthAdjust="spacingAndGlyphs">4</text>
<text x="453.68" y="37.10" font-size="11.4" font-weight="bold" fill="#111" textLength="5.74" lengthAdjust="spacingAndGlyphs">0</text>
<line x1="461.20" y1="70.50" x2="465.00" y2="70.50" stroke="#454545" stroke-width="1.3" stroke-linecap="butt"/>
<text x="447.86" y="74.60" font-size="11.4" font-weight="bold" fill="#111" textLength="5.78" lengthAdjust="spacingAndGlyphs">3</text>
<text x="453.64" y="74.60" font-size="11.4" font-weight="bold" fill="#111" textLength="5.78" lengthAdjust="spacingAndGlyphs">0</text>
<line x1="461.20" y1="108.00" x2="465.00" y2="108.00" stroke="#454545" stroke-width="1.3" stroke-linecap="butt"/>
<text x="447.74" y="112.10" font-size="11.4" font-weight="bold" fill="#111" textLength="5.85" lengthAdjust="spacingAndGlyphs">2</text>
<text x="453.58" y="112.10" font-size="11.4" font-weight="bold" fill="#111" textLength="5.85" lengthAdjust="spacingAndGlyphs">0</text>
<line x1="461.20" y1="145.50" x2="465.00" y2="145.50" stroke="#454545" stroke-width="1.3" stroke-linecap="butt"/>
<path d="M451.54,149.60 L451.54,141.76 L450.59,141.76 L450.18,142.36 L448.10,143.70 L448.10,145.04 L449.95,143.98 L449.95,149.60 Z" fill="#111"/>
<text x="453.16" y="149.60" font-size="11.4" font-weight="bold" fill="#111" textLength="6.31" lengthAdjust="spacingAndGlyphs">0</text>
<line x1="461.20" y1="183.00" x2="465.00" y2="183.00" stroke="#454545" stroke-width="1.3" stroke-linecap="butt"/>
<text x="453.37" y="187.10" font-size="11.4" font-weight="bold" fill="#111" textLength="6.08" lengthAdjust="spacingAndGlyphs">0</text>
<line x1="464.40" y1="183.00" x2="683.60" y2="183.00" stroke="#454545" stroke-width="1.3" stroke-linecap="butt"/>
<line x1="501.60" y1="183.00" x2="501.60" y2="187.20" stroke="#454545" stroke-width="1.3" stroke-linecap="butt"/>
<line x1="574.60" y1="183.00" x2="574.60" y2="187.20" stroke="#454545" stroke-width="1.3" stroke-linecap="butt"/>
<line x1="646.90" y1="183.00" x2="646.90" y2="187.20" stroke="#454545" stroke-width="1.3" stroke-linecap="butt"/>
<text x="483.76" y="199.50" font-size="12.6" fill="#1f1f1f" textLength="37.15" lengthAdjust="spacingAndGlyphs" stroke="#1f1f1f" stroke-width="0.35">LL-WT</text>
<text x="554.56" y="200.40" font-size="12.6" fill="#1f1f1f" textLength="43.85" lengthAdjust="spacingAndGlyphs" stroke="#1f1f1f" stroke-width="0.35">LL-TSLP</text>
<text x="623.24" y="199.10" font-size="12.6" fill="#1f1f1f" textLength="45.19" lengthAdjust="spacingAndGlyphs" stroke="#1f1f1f" stroke-width="0.35">LL-TSLP</text>
<text x="611.22" y="216.30" font-size="12.6" fill="#1f1f1f" textLength="67.79" lengthAdjust="spacingAndGlyphs" stroke="#1f1f1f" stroke-width="0.35">early phase</text>
<text transform="translate(436.60,165.20) rotate(-90)" x="-1.02" y="0" font-size="15.0" fill="#1f1f1f" textLength="121.57" lengthAdjust="spacingAndGlyphs" stroke="#1f1f1f" stroke-width="0.35">Histological scores</text>
<line x1="501.50" y1="62.60" x2="646.60" y2="62.60" stroke="#454545" stroke-width="1.3" stroke-linecap="butt"/>
<line x1="501.50" y1="58.70" x2="501.50" y2="66.60" stroke="#454545" stroke-width="1.3" stroke-linecap="butt"/>
<line x1="646.60" y1="58.70" x2="646.60" y2="66.60" stroke="#454545" stroke-width="1.3" stroke-linecap="butt"/>
<path d="M572.70,49.20 L573.41,50.63 L574.98,50.86 L573.84,51.97 L574.11,53.54 L572.70,52.80 L571.29,53.54 L571.56,51.97 L570.42,50.86 L571.99,50.63 Z" fill="#111" stroke="#111" stroke-width="0.5" stroke-linejoin="round"/>
<path d="M571.55,77.65 L578.05,77.65 L574.80,71.35 Z" fill="#a6a6a6"/>
<path d="M571.55,92.95 L578.05,92.95 L574.80,86.65 Z" fill="#a6a6a6"/>
<path d="M562.35,111.15 L568.85,111.15 L565.60,104.85 Z" fill="#a6a6a6"/>
<path d="M571.55,119.85 L578.05,119.85 L574.80,113.55 Z" fill="#a6a6a6"/>
<path d="M580.25,119.85 L586.75,119.85 L583.50,113.55 Z" fill="#a6a6a6"/>
<path d="M562.35,141.65 L568.85,141.65 L565.60,135.35 Z" fill="#a6a6a6"/>
<path d="M571.55,145.75 L578.05,145.75 L574.80,139.45 Z" fill="#a6a6a6"/>
<path d="M571.55,156.55 L578.05,156.55 L574.80,150.25 Z" fill="#a6a6a6"/>
<line x1="574.60" y1="107.50" x2="574.60" y2="126.30" stroke="#8a8a8a" stroke-width="1.1" stroke-linecap="butt"/>
<line x1="562.30" y1="107.50" x2="586.80" y2="107.50" stroke="#8a8a8a" stroke-width="1.1" stroke-linecap="butt"/>
<line x1="562.30" y1="126.30" x2="586.80" y2="126.30" stroke="#8a8a8a" stroke-width="1.1" stroke-linecap="butt"/>
<line x1="550.20" y1="117.10" x2="598.70" y2="117.10" stroke="#505050" stroke-width="1.6" stroke-linecap="butt"/>
<line x1="501.50" y1="93.00" x2="501.50" y2="120.10" stroke="#808080" stroke-width="1.3" stroke-linecap="butt"/>
<line x1="489.80" y1="93.00" x2="513.80" y2="93.00" stroke="#808080" stroke-width="1.3" stroke-linecap="butt"/>
<line x1="489.80" y1="120.10" x2="513.80" y2="120.10" stroke="#808080" stroke-width="1.3" stroke-linecap="butt"/>
<line x1="477.50" y1="106.60" x2="526.00" y2="106.60" stroke="#2a2a2a" stroke-width="1.2" stroke-linecap="butt"/>
<rect x="489.80" y="44.50" width="6.00" height="6.00" fill="#000"/>
<rect x="498.50" y="44.50" width="6.00" height="6.00" fill="#000"/>
<rect x="498.50" y="97.00" width="6.00" height="6.00" fill="#000"/>
<rect x="480.70" y="119.80" width="6.00" height="6.00" fill="#000"/>
<rect x="489.60" y="127.30" width="6.00" height="6.00" fill="#000"/>
<rect x="498.50" y="127.30" width="6.00" height="6.00" fill="#000"/>
<rect x="507.30" y="127.30" width="6.00" height="6.00" fill="#000"/>
<rect x="498.50" y="138.70" width="6.00" height="6.00" fill="#000"/>
<line x1="647.10" y1="127.30" x2="647.10" y2="139.70" stroke="#444" stroke-width="1.2" stroke-linecap="butt"/>
<line x1="635.40" y1="127.30" x2="659.80" y2="127.30" stroke="#444" stroke-width="1.2" stroke-linecap="butt"/>
<line x1="635.40" y1="139.70" x2="659.80" y2="139.70" stroke="#444" stroke-width="1.2" stroke-linecap="butt"/>
<line x1="623.00" y1="133.50" x2="671.80" y2="133.50" stroke="#222" stroke-width="1.1" stroke-linecap="butt"/>
<circle cx="629.80" cy="115.40" r="2.45" stroke="#1a1a1a" stroke-width="1.3" fill="none"/>
<circle cx="656.20" cy="115.40" r="2.45" stroke="#1a1a1a" stroke-width="1.3" fill="none"/>
<circle cx="638.50" cy="122.20" r="2.45" stroke="#1a1a1a" stroke-width="1.3" fill="none"/>
<circle cx="646.90" cy="122.20" r="2.45" stroke="#1a1a1a" stroke-width="1.3" fill="none"/>
<circle cx="646.90" cy="133.90" r="2.45" stroke="#1a1a1a" stroke-width="1.3" fill="none"/>
<circle cx="638.50" cy="141.50" r="2.45" stroke="#1a1a1a" stroke-width="1.3" fill="none"/>
<circle cx="646.90" cy="148.80" r="2.45" stroke="#1a1a1a" stroke-width="1.3" fill="none"/>
<circle cx="646.90" cy="164.30" r="2.45" stroke="#1a1a1a" stroke-width="1.3" fill="none"/>
<line x1="464.90" y1="216.60" x2="464.90" y2="355.60" stroke="#454545" stroke-width="1.3" stroke-linecap="butt"/>
<line x1="461.10" y1="216.60" x2="464.90" y2="216.60" stroke="#454545" stroke-width="1.3" stroke-linecap="butt"/>
<text x="442.85" y="220.70" font-size="11.4" font-weight="bold" fill="#111" textLength="5.52" lengthAdjust="spacingAndGlyphs">4</text>
<text x="448.37" y="220.70" font-size="11.4" font-weight="bold" fill="#111" textLength="5.52" lengthAdjust="spacingAndGlyphs">0</text>
<text x="453.89" y="220.70" font-size="11.4" font-weight="bold" fill="#111" textLength="5.52" lengthAdjust="spacingAndGlyphs">0</text>
<line x1="461.10" y1="251.20" x2="464.90" y2="251.20" stroke="#454545" stroke-width="1.3" stroke-linecap="butt"/>
<text x="442.77" y="255.30" font-size="11.4" font-weight="bold" fill="#111" textLength="5.55" lengthAdjust="spacingAndGlyphs">3</text>
<text x="448.32" y="255.30" font-size="11.4" font-weight="bold" fill="#111" textLength="5.55" lengthAdjust="spacingAndGlyphs">0</text>
<text x="453.86" y="255.30" font-size="11.4" font-weight="bold" fill="#111" textLength="5.55" lengthAdjust="spacingAndGlyphs">0</text>
<line x1="461.10" y1="285.80" x2="464.90" y2="285.80" stroke="#454545" stroke-width="1.3" stroke-linecap="butt"/>
<text x="442.65" y="289.90" font-size="11.4" font-weight="bold" fill="#111" textLength="5.59" lengthAdjust="spacingAndGlyphs">2</text>
<text x="448.24" y="289.90" font-size="11.4" font-weight="bold" fill="#111" textLength="5.59" lengthAdjust="spacingAndGlyphs">0</text>
<text x="453.83" y="289.90" font-size="11.4" font-weight="bold" fill="#111" textLength="5.59" lengthAdjust="spacingAndGlyphs">0</text>
<line x1="461.10" y1="320.40" x2="464.90" y2="320.40" stroke="#454545" stroke-width="1.3" stroke-linecap="butt"/>
<path d="M446.20,324.50 L446.20,316.66 L445.32,316.66 L444.93,317.26 L443.00,318.60 L443.00,319.94 L444.72,318.88 L444.72,324.50 Z" fill="#111"/>
<text x="447.71" y="324.50" font-size="11.4" font-weight="bold" fill="#111" textLength="5.86" lengthAdjust="spacingAndGlyphs">0</text>
<text x="453.57" y="324.50" font-size="11.4" font-weight="bold" fill="#111" textLength="5.86" lengthAdjust="spacingAndGlyphs">0</text>
<line x1="461.10" y1="355.00" x2="464.90" y2="355.00" stroke="#454545" stroke-width="1.3" stroke-linecap="butt"/>
<text x="453.37" y="359.10" font-size="11.4" font-weight="bold" fill="#111" textLength="6.08" lengthAdjust="spacingAndGlyphs">0</text>
<line x1="464.30" y1="355.00" x2="672.20" y2="355.00" stroke="#454545" stroke-width="1.3" stroke-linecap="butt"/>
<line x1="499.40" y1="355.00" x2="499.40" y2="359.20" stroke="#454545" stroke-width="1.3" stroke-linecap="butt"/>
<line x1="568.40" y1="355.00" x2="568.40" y2="359.20" stroke="#454545" stroke-width="1.3" stroke-linecap="butt"/>
<line x1="637.90" y1="355.00" x2="637.90" y2="359.20" stroke="#454545" stroke-width="1.3" stroke-linecap="butt"/>
<text x="483.76" y="374.60" font-size="12.6" fill="#1f1f1f" textLength="37.15" lengthAdjust="spacingAndGlyphs" stroke="#1f1f1f" stroke-width="0.35">LL-WT</text>
<text x="553.85" y="376.10" font-size="12.6" fill="#1f1f1f" textLength="44.57" lengthAdjust="spacingAndGlyphs" stroke="#1f1f1f" stroke-width="0.35">LL-TSLP</text>
<text x="622.84" y="374.00" font-size="12.6" fill="#1f1f1f" textLength="45.19" lengthAdjust="spacingAndGlyphs" stroke="#1f1f1f" stroke-width="0.35">LL-TSLP</text>
<text x="611.42" y="391.80" font-size="12.6" fill="#1f1f1f" textLength="67.48" lengthAdjust="spacingAndGlyphs" stroke="#1f1f1f" stroke-width="0.35">early phase</text>
<text transform="translate(436.80,331.00) rotate(-90)" x="-0.11" y="0" font-size="14.5" fill="#1f1f1f" textLength="37.45" lengthAdjust="spacingAndGlyphs" stroke="#1f1f1f" stroke-width="0.35">TGF-β</text>
<text transform="translate(436.80,290.90) rotate(-90)" x="-0.83" y="0" font-size="14.5" fill="#1f1f1f" textLength="55.76" lengthAdjust="spacingAndGlyphs" stroke="#1f1f1f" stroke-width="0.35">(pg/mL)</text>
<path d="M565.05,267.45 L571.55,267.45 L568.30,261.15 Z" fill="#a6a6a6"/>
<path d="M565.25,312.95 L571.75,312.95 L568.50,306.65 Z" fill="#a6a6a6"/>
<path d="M573.85,329.65 L580.35,329.65 L577.10,323.35 Z" fill="#a6a6a6"/>
<path d="M557.15,334.65 L563.65,334.65 L560.40,328.35 Z" fill="#a6a6a6"/>
<path d="M565.25,335.15 L571.75,335.15 L568.50,328.85 Z" fill="#a6a6a6"/>
<path d="M573.85,338.05 L580.35,338.05 L577.10,331.75 Z" fill="#a6a6a6"/>
<path d="M565.25,342.95 L571.75,342.95 L568.50,336.65 Z" fill="#a6a6a6"/>
<line x1="568.50" y1="312.20" x2="568.50" y2="330.30" stroke="#2a2a2a" stroke-width="1.5" stroke-linecap="butt"/>
<line x1="557.40" y1="312.20" x2="580.70" y2="312.20" stroke="#2a2a2a" stroke-width="1.5" stroke-linecap="butt"/>
<line x1="557.40" y1="330.30" x2="580.70" y2="330.30" stroke="#2a2a2a" stroke-width="1.5" stroke-linecap="butt"/>
<line x1="545.80" y1="321.10" x2="591.60" y2="321.10" stroke="#2a2a2a" stroke-width="1.5" stroke-linecap="butt"/>
<line x1="499.50" y1="312.50" x2="499.50" y2="333.70" stroke="#555" stroke-width="1.3" stroke-linecap="butt"/>
<line x1="488.00" y1="312.50" x2="511.00" y2="312.50" stroke="#555" stroke-width="1.3" stroke-linecap="butt"/>
<line x1="488.00" y1="333.70" x2="511.00" y2="333.70" stroke="#555" stroke-width="1.3" stroke-linecap="butt"/>
<line x1="476.50" y1="323.20" x2="522.90" y2="323.20" stroke="#2a2a2a" stroke-width="1.2" stroke-linecap="butt"/>
<rect x="496.60" y="250.50" width="6.00" height="6.00" fill="#000"/>
<rect x="496.70" y="312.70" width="6.00" height="6.00" fill="#000"/>
<rect x="492.30" y="324.40" width="6.00" height="6.00" fill="#000"/>
<rect x="500.90" y="330.50" width="6.00" height="6.00" fill="#000"/>
<rect x="508.90" y="331.50" width="6.00" height="6.00" fill="#000"/>
<rect x="483.90" y="336.50" width="6.00" height="6.00" fill="#000"/>
<rect x="492.50" y="338.80" width="6.00" height="6.00" fill="#000"/>
<rect x="500.70" y="336.80" width="6.00" height="6.00" fill="#000"/>
<line x1="637.90" y1="325.70" x2="637.90" y2="332.30" stroke="#808080" stroke-width="1.5" stroke-linecap="butt"/>
<line x1="626.90" y1="325.70" x2="649.90" y2="325.70" stroke="#808080" stroke-width="1.5" stroke-linecap="butt"/>
<line x1="626.90" y1="332.30" x2="649.90" y2="332.30" stroke="#808080" stroke-width="1.5" stroke-linecap="butt"/>
<line x1="615.20" y1="329.10" x2="661.10" y2="329.10" stroke="#333" stroke-width="1.0" stroke-linecap="butt"/>
<circle cx="642.10" cy="311.80" r="2.55" stroke="#111" stroke-width="1.5" fill="none"/>
<circle cx="633.90" cy="316.90" r="2.55" stroke="#111" stroke-width="1.5" fill="none"/>
<circle cx="637.90" cy="328.00" r="2.55" stroke="#111" stroke-width="1.5" fill="none"/>
<circle cx="621.30" cy="331.70" r="2.55" stroke="#111" stroke-width="1.5" fill="none"/>
<circle cx="629.50" cy="334.60" r="2.55" stroke="#111" stroke-width="1.5" fill="none"/>
<circle cx="646.10" cy="335.50" r="2.55" stroke="#111" stroke-width="1.5" fill="none"/>
<circle cx="654.50" cy="332.40" r="2.55" stroke="#111" stroke-width="1.5" fill="none"/>
<circle cx="637.90" cy="339.90" r="2.55" stroke="#111" stroke-width="1.5" fill="none"/>
<line x1="464.90" y1="403.98" x2="464.90" y2="544.30" stroke="#454545" stroke-width="1.3" stroke-linecap="butt"/>
<line x1="461.10" y1="403.98" x2="464.90" y2="403.98" stroke="#454545" stroke-width="1.3" stroke-linecap="butt"/>
<text x="442.85" y="408.08" font-size="11.4" font-weight="bold" fill="#111" textLength="5.52" lengthAdjust="spacingAndGlyphs">4</text>
<text x="448.37" y="408.08" font-size="11.4" font-weight="bold" fill="#111" textLength="5.52" lengthAdjust="spacingAndGlyphs">0</text>
<text x="453.89" y="408.08" font-size="11.4" font-weight="bold" fill="#111" textLength="5.52" lengthAdjust="spacingAndGlyphs">0</text>
<line x1="461.10" y1="438.91" x2="464.90" y2="438.91" stroke="#454545" stroke-width="1.3" stroke-linecap="butt"/>
<text x="442.77" y="443.01" font-size="11.4" font-weight="bold" fill="#111" textLength="5.55" lengthAdjust="spacingAndGlyphs">3</text>
<text x="448.32" y="443.01" font-size="11.4" font-weight="bold" fill="#111" textLength="5.55" lengthAdjust="spacingAndGlyphs">0</text>
<text x="453.86" y="443.01" font-size="11.4" font-weight="bold" fill="#111" textLength="5.55" lengthAdjust="spacingAndGlyphs">0</text>
<line x1="461.10" y1="473.84" x2="464.90" y2="473.84" stroke="#454545" stroke-width="1.3" stroke-linecap="butt"/>
<text x="442.65" y="477.94" font-size="11.4" font-weight="bold" fill="#111" textLength="5.59" lengthAdjust="spacingAndGlyphs">2</text>
<text x="448.24" y="477.94" font-size="11.4" font-weight="bold" fill="#111" textLength="5.59" lengthAdjust="spacingAndGlyphs">0</text>
<text x="453.83" y="477.94" font-size="11.4" font-weight="bold" fill="#111" textLength="5.59" lengthAdjust="spacingAndGlyphs">0</text>
<line x1="461.10" y1="508.77" x2="464.90" y2="508.77" stroke="#454545" stroke-width="1.3" stroke-linecap="butt"/>
<path d="M446.20,512.87 L446.20,505.03 L445.32,505.03 L444.93,505.63 L443.00,506.97 L443.00,508.31 L444.72,507.25 L444.72,512.87 Z" fill="#111"/>
<text x="447.71" y="512.87" font-size="11.4" font-weight="bold" fill="#111" textLength="5.86" lengthAdjust="spacingAndGlyphs">0</text>
<text x="453.57" y="512.87" font-size="11.4" font-weight="bold" fill="#111" textLength="5.86" lengthAdjust="spacingAndGlyphs">0</text>
<line x1="461.10" y1="543.70" x2="464.90" y2="543.70" stroke="#454545" stroke-width="1.3" stroke-linecap="butt"/>
<text x="453.37" y="547.80" font-size="11.4" font-weight="bold" fill="#111" textLength="6.08" lengthAdjust="spacingAndGlyphs">0</text>
<line x1="464.30" y1="543.70" x2="675.80" y2="543.70" stroke="#454545" stroke-width="1.3" stroke-linecap="butt"/>
<line x1="500.20" y1="543.70" x2="500.20" y2="547.90" stroke="#454545" stroke-width="1.3" stroke-linecap="butt"/>
<line x1="570.10" y1="543.70" x2="570.10" y2="547.90" stroke="#454545" stroke-width="1.3" stroke-linecap="butt"/>
<line x1="641.00" y1="543.70" x2="641.00" y2="547.90" stroke="#454545" stroke-width="1.3" stroke-linecap="butt"/>
<text x="487.35" y="565.90" font-size="12.6" fill="#1f1f1f" textLength="37.56" lengthAdjust="spacingAndGlyphs" stroke="#1f1f1f" stroke-width="0.35">LL-WT</text>
<text x="557.24" y="567.80" font-size="12.6" fill="#1f1f1f" textLength="45.19" lengthAdjust="spacingAndGlyphs" stroke="#1f1f1f" stroke-width="0.35">LL-TSLP</text>
<text x="626.54" y="565.60" font-size="12.6" fill="#1f1f1f" textLength="45.09" lengthAdjust="spacingAndGlyphs" stroke="#1f1f1f" stroke-width="0.35">LL-TSLP</text>
<text x="614.91" y="581.40" font-size="12.6" fill="#1f1f1f" textLength="69.11" lengthAdjust="spacingAndGlyphs" stroke="#1f1f1f" stroke-width="0.35">early phase</text>
<text transform="translate(436.60,522.50) rotate(-90)" x="-1.11" y="0" font-size="14.7" fill="#1f1f1f" textLength="32.91" lengthAdjust="spacingAndGlyphs" stroke="#1f1f1f" stroke-width="0.45">IL-17</text>
<text transform="translate(436.60,487.30) rotate(-90)" x="-0.72" y="0" font-size="14.7" fill="#1f1f1f" textLength="52.75" lengthAdjust="spacingAndGlyphs" stroke="#1f1f1f" stroke-width="0.45">(pg/mL)</text>
<line x1="501.30" y1="426.80" x2="559.90" y2="426.80" stroke="#000" stroke-width="1.8" stroke-linecap="butt"/>
<line x1="501.30" y1="423.50" x2="501.30" y2="431.70" stroke="#000" stroke-width="1.8" stroke-linecap="butt"/>
<line x1="559.90" y1="423.50" x2="559.90" y2="431.70" stroke="#000" stroke-width="1.8" stroke-linecap="butt"/>
<line x1="580.20" y1="426.80" x2="641.00" y2="426.80" stroke="#000" stroke-width="1.8" stroke-linecap="butt"/>
<line x1="580.20" y1="423.50" x2="580.20" y2="431.70" stroke="#000" stroke-width="1.8" stroke-linecap="butt"/>
<line x1="641.00" y1="423.50" x2="641.00" y2="431.70" stroke="#000" stroke-width="1.8" stroke-linecap="butt"/>
<path d="M528.10,418.30 L528.78,419.67 L530.29,419.89 L529.19,420.96 L529.45,422.46 L528.10,421.75 L526.75,422.46 L527.01,420.96 L525.91,419.89 L527.42,419.67 Z" fill="#111" stroke="#111" stroke-width="0.5" stroke-linejoin="round"/>
<path d="M532.90,418.30 L533.58,419.67 L535.09,419.89 L533.99,420.96 L534.25,422.46 L532.90,421.75 L531.55,422.46 L531.81,420.96 L530.71,419.89 L532.22,419.67 Z" fill="#111" stroke="#111" stroke-width="0.5" stroke-linejoin="round"/>
<path d="M608.10,418.30 L608.78,419.67 L610.29,419.89 L609.19,420.96 L609.45,422.46 L608.10,421.75 L606.75,422.46 L607.01,420.96 L605.91,419.89 L607.42,419.67 Z" fill="#111" stroke="#111" stroke-width="0.5" stroke-linejoin="round"/>
<path d="M612.90,418.30 L613.58,419.67 L615.09,419.89 L613.99,420.96 L614.25,422.46 L612.90,421.75 L611.55,422.46 L611.81,420.96 L610.71,419.89 L612.22,419.67 Z" fill="#111" stroke="#111" stroke-width="0.5" stroke-linejoin="round"/>
<path d="M566.85,457.35 L573.35,457.35 L570.10,451.05 Z" fill="#a6a6a6"/>
<path d="M558.75,475.15 L565.25,475.15 L562.00,468.85 Z" fill="#a6a6a6"/>
<path d="M575.85,475.15 L582.35,475.15 L579.10,468.85 Z" fill="#a6a6a6"/>
<path d="M566.85,483.65 L573.35,483.65 L570.10,477.35 Z" fill="#a6a6a6"/>
<path d="M563.05,495.95 L569.55,495.95 L566.30,489.65 Z" fill="#a6a6a6"/>
<path d="M571.65,501.85 L578.15,501.85 L574.90,495.55 Z" fill="#a6a6a6"/>
<path d="M567.15,517.75 L573.65,517.75 L570.40,511.45 Z" fill="#a6a6a6"/>
<line x1="570.10" y1="477.20" x2="570.10" y2="490.50" stroke="#222" stroke-width="1.4" stroke-linecap="butt"/>
<line x1="559.00" y1="477.20" x2="582.90" y2="477.20" stroke="#222" stroke-width="1.4" stroke-linecap="butt"/>
<line x1="559.00" y1="490.50" x2="582.90" y2="490.50" stroke="#222" stroke-width="1.4" stroke-linecap="butt"/>
<line x1="547.10" y1="484.00" x2="593.80" y2="484.00" stroke="#606060" stroke-width="1.7" stroke-linecap="butt"/>
<line x1="500.30" y1="451.80" x2="500.30" y2="459.30" stroke="#777" stroke-width="1.3" stroke-linecap="butt"/>
<line x1="488.20" y1="451.80" x2="512.10" y2="451.80" stroke="#777" stroke-width="1.3" stroke-linecap="butt"/>
<line x1="488.20" y1="459.30" x2="512.10" y2="459.30" stroke="#777" stroke-width="1.3" stroke-linecap="butt"/>
<line x1="476.90" y1="455.50" x2="524.00" y2="455.50" stroke="#2a2a2a" stroke-width="1.2" stroke-linecap="butt"/>
<rect x="497.30" y="435.80" width="6.00" height="6.00" fill="#000"/>
<rect x="501.50" y="442.20" width="6.00" height="6.00" fill="#000"/>
<rect x="493.10" y="445.10" width="6.00" height="6.00" fill="#000"/>
<rect x="493.10" y="453.40" width="6.00" height="6.00" fill="#000"/>
<rect x="501.50" y="455.70" width="6.00" height="6.00" fill="#000"/>
<rect x="488.70" y="460.70" width="6.00" height="6.00" fill="#000"/>
<rect x="505.70" y="462.40" width="6.00" height="6.00" fill="#000"/>
<rect x="497.30" y="465.90" width="6.00" height="6.00" fill="#000"/>
<line x1="641.00" y1="452.00" x2="641.00" y2="460.70" stroke="#666" stroke-width="1.4" stroke-linecap="butt"/>
<line x1="629.30" y1="452.00" x2="652.80" y2="452.00" stroke="#666" stroke-width="1.4" stroke-linecap="butt"/>
<line x1="629.30" y1="460.70" x2="652.80" y2="460.70" stroke="#666" stroke-width="1.4" stroke-linecap="butt"/>
<line x1="617.40" y1="456.40" x2="664.80" y2="456.40" stroke="#222" stroke-width="1.1" stroke-linecap="butt"/>
<circle cx="632.60" cy="438.30" r="2.50" stroke="#111" stroke-width="1.5" fill="#fff"/>
<circle cx="649.10" cy="444.50" r="2.50" stroke="#111" stroke-width="1.5" fill="#fff"/>
<circle cx="641.00" cy="446.90" r="2.50" stroke="#111" stroke-width="1.5" fill="#fff"/>
<circle cx="636.90" cy="454.60" r="2.50" stroke="#111" stroke-width="1.5" fill="#fff"/>
<circle cx="645.40" cy="462.20" r="2.50" stroke="#111" stroke-width="1.5" fill="#fff"/>
<circle cx="632.60" cy="464.20" r="2.50" stroke="#111" stroke-width="1.5" fill="#fff"/>
<circle cx="649.50" cy="466.30" r="2.50" stroke="#111" stroke-width="1.5" fill="#fff"/>
<circle cx="641.00" cy="471.80" r="2.50" stroke="#111" stroke-width="1.5" fill="#fff"/>
</svg>
</body></html>
